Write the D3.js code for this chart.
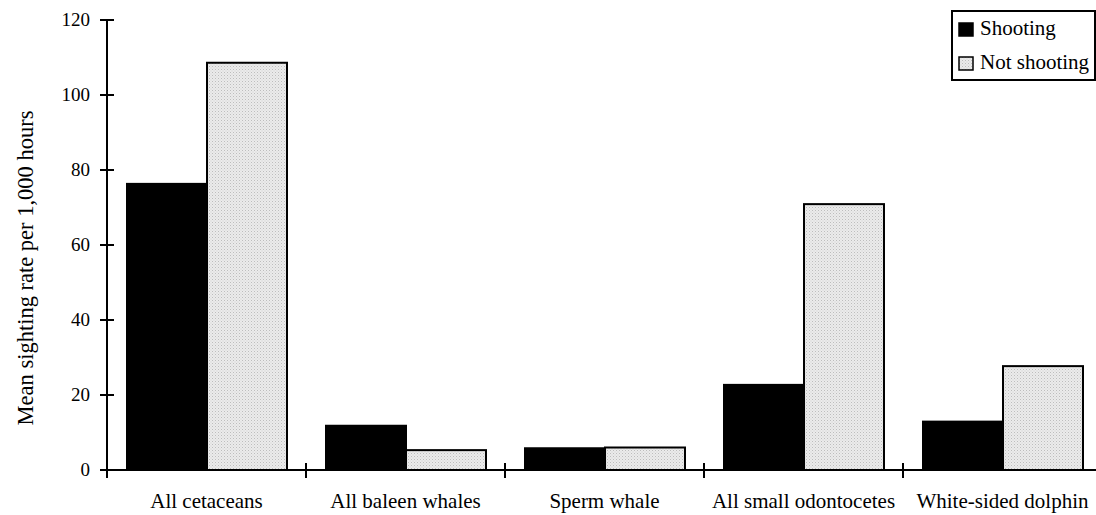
<!DOCTYPE html>
<html>
<head>
<meta charset="utf-8">
<script src="https://cdn.jsdelivr.net/npm/d3@7"></script>
<style>
  body { margin: 0; background: #fff; }
</style>
</head>
<body>
<script>
var categories = ["All cetaceans", "All baleen whales", "Sperm whale", "All small odontocetes", "White-sided dolphin"];
var series = ["Shooting", "Not shooting"];
var shooting = [76.3, 11.8, 5.8, 22.7, 12.9];
var notShooting = [108.6, 5.3, 6.0, 70.9, 27.7];
var yTicks = [0, 20, 40, 60, 80, 100, 120];

var width = 1096, height = 515;
var margin = {top: 20, right: -6, bottom: 45, left: 107};
var serif = "Liberation Serif";

var svg = d3.select("body").append("svg")
  .attr("width", width)
  .attr("height", height)
  .style("display", "block");

// dotted grey fill like the original
var defs = svg.append("defs");
var pat = defs.append("pattern")
  .attr("id", "dots")
  .attr("patternUnits", "userSpaceOnUse")
  .attr("width", 3).attr("height", 3);
pat.append("rect").attr("width", 3).attr("height", 3).attr("fill", "#ebebeb");
pat.append("rect").attr("width", 1).attr("height", 1).attr("fill", "#bdbdbd");
pat.append("rect").attr("x", 1.5).attr("y", 1.5).attr("width", 1).attr("height", 1).attr("fill", "#d0d0d0");

var x0 = d3.scaleBand()
  .domain(categories)
  .range([margin.left, width - margin.right])
  .paddingInner(0)
  .paddingOuter(0);

var x1 = d3.scaleBand()
  .domain(series)
  .range([20, x0.bandwidth() - 19]);

var y = d3.scaleLinear()
  .domain([0, 120])
  .range([height - margin.bottom, margin.top]);

var data = categories.map(function(c, i) {
  return {cat: c, values: [
    {key: "Shooting", value: shooting[i]},
    {key: "Not shooting", value: notShooting[i]}
  ]};
});

var groups = svg.append("g")
  .selectAll("g")
  .data(data)
  .join("g")
  .attr("transform", d => "translate(" + x0(d.cat) + ",0)");

groups.selectAll("rect")
  .data(d => d.values)
  .join("rect")
  .attr("x", d => x1(d.key))
  .attr("y", d => y(d.value))
  .attr("width", x1.bandwidth())
  .attr("height", d => y(0) - y(d.value))
  .attr("fill", d => d.key == "Shooting" ? "#000" : "url(#dots)")
  .attr("stroke", "#000")
  .attr("stroke-width", 2);

// y axis
var yAxis = svg.append("g")
  .attr("transform", "translate(" + margin.left + ",0)");
yAxis.append("line")
  .attr("x1", 0).attr("x2", 0)
  .attr("y1", y(120)).attr("y2", y(0))
  .attr("stroke", "#000").attr("stroke-width", 2);
yAxis.selectAll(".tick")
  .data(yTicks)
  .join("line")
  .attr("x1", -7).attr("x2", 7)
  .attr("y1", d => y(d)).attr("y2", d => y(d))
  .attr("stroke", "#000").attr("stroke-width", 2);
yAxis.selectAll("text")
  .data(yTicks)
  .join("text")
  .attr("x", -17)
  .attr("y", d => y(d))
  .attr("dy", "0.34em")
  .attr("text-anchor", "end")
  .attr("font-family", serif)
  .attr("font-size", 19)
  .text(d => d);

// x axis
var xAxis = svg.append("g");
xAxis.append("line")
  .attr("x1", margin.left).attr("x2", width)
  .attr("y1", y(0)).attr("y2", y(0))
  .attr("stroke", "#000").attr("stroke-width", 2);
xAxis.selectAll(".tick")
  .data(categories)
  .join("line")
  .attr("x1", d => x0(d)).attr("x2", d => x0(d))
  .attr("y1", y(0) - 7).attr("y2", y(0) + 8)
  .attr("stroke", "#000").attr("stroke-width", 2);
xAxis.selectAll("text")
  .data(categories)
  .join("text")
  .attr("x", d => x0(d) + x0.bandwidth() / 2)
  .attr("y", y(0) + 38)
  .attr("text-anchor", "middle")
  .attr("font-family", serif)
  .attr("font-size", 21)
  .text(d => d);

// y title
svg.append("text")
  .attr("transform", "translate(33,268) rotate(-90)")
  .attr("text-anchor", "middle")
  .attr("font-family", serif)
  .attr("font-size", 22.5)
  .text("Mean sighting rate per 1,000 hours");

// legend
var legend = svg.append("g").attr("transform", "translate(952,11)");
legend.append("rect")
  .attr("width", 143).attr("height", 69)
  .attr("fill", "#fff")
  .attr("stroke", "#000").attr("stroke-width", 2);
var items = legend.selectAll(".item")
  .data(series)
  .join("g")
  .attr("transform", (d, i) => "translate(7," + (12 + i * 34) + ")");
items.append("rect")
  .attr("width", 14).attr("height", 13)
  .attr("fill", d => d == "Shooting" ? "#000" : "url(#dots)")
  .attr("stroke", "#000").attr("stroke-width", 1.5);
items.append("text")
  .attr("x", 21).attr("y", 12)
  .attr("font-family", serif)
  .attr("font-size", 21)
  .text(d => d);
</script>
</body>
</html>
